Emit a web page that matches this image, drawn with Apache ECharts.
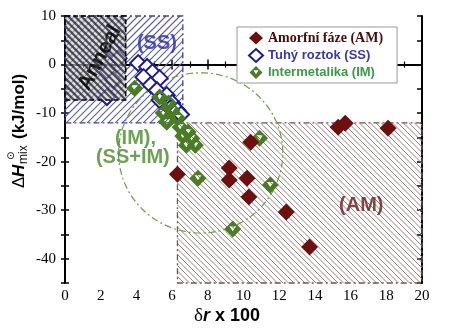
<!DOCTYPE html>
<html><head><meta charset="utf-8">
<script src="https://cdn.jsdelivr.net/npm/echarts@6/dist/echarts.min.js"></script>
<style>html,body{margin:0;padding:0;background:#fff}#c{width:452px;height:336px}</style>
</head><body><div id="c"></div>
<script>
// ---- data ----
const xTickLabels = [0, 2, 4, 6, 8, 10, 12, 14, 16, 18, 20];
const yTickLabels = [10, 0, -10, -20, -30, -40];
const seriesNames = ['Amorfní fáze (AM)', 'Tuhý roztok (SS)', 'Intermetalika (IM)'];
const amData = [[6.3,-22.6],[9.2,-21.3],[9.2,-23.8],[10.2,-23.4],[10.3,-27.3],[10.4,-16.0],[12.4,-30.4],[13.7,-37.6],[15.3,-12.9],[15.7,-12.1],[18.1,-13.1]];
const ssData = [[2.7,3.0],[3.0,1.3],[2.4,-1.5],[2.7,-3.2],[2.35,-6.7],[4.1,0.3],[4.6,-0.5],[4.9,-1.6],[4.4,-2.6],[5.3,-2.8],[4.8,-4.2],[5.15,-5.3],[5.7,-6.3],[5.3,-7.3],[6.0,-7.9],[5.9,-9.0],[6.3,-9.4],[6.5,-10.3]];
const imData = [[3.9,-4.9],[5.3,-6.7],[5.8,-7.9],[5.5,-10.0],[6.0,-9.4],[5.7,-11.9],[6.3,-11.0],[6.45,-12.9],[6.9,-13.9],[6.6,-14.7],[7.1,-15.2],[6.8,-16.6],[7.3,-16.6],[7.45,-23.4],[10.9,-15.2],[11.5,-24.8],[9.4,-33.9]];
// regions [xMin, yMin, xMax, yMax]
const ssRegion = [0, -12, 6.6, 10];
const amRegion = [6.3, -45, 20, -12];
const annealRegion = [0, -7.3, 3.4, 10];
// IM ellipse [cx, cy, rx, ry]
const imEllipse = [7.6, -18.2, 4.6, 16.5];
// annotation texts with their data positions
const annotations = [
  {text:'(SS)', pos:[5.15, 4.4]},
  {text:'(IM),', pos:[3.95, -15.2]},
  {text:'(SS+IM)', pos:[3.8, -19.1]},
  {text:'(AM)', pos:[16.6, -29.0]},
  {text:'Anneal', pos:[1.95, 1.4]}
];

// ---- styles ----
const annStyles = [
  {color:'#2a2a9c', size:20, rot:0},
  {color:'#4a8a2a', size:20, rot:0},
  {color:'#4a8a2a', size:20, rot:0},
  {color:'#6a1a1a', size:20, rot:0},
  {color:'#000', size:21, rot:62}
];
const hatchStyles = {
  ss: {dir:'fwd', spacing:7, line:'#5e5e9e', lw:1.1, border:'#4040a0', bw:1.3, dash:[6,3,2,3]},
  am: {dir:'back', spacing:5.5, line:'#9a8484', lw:1.0, border:'#7a5050', bw:1.3, dash:[6,3,2,3]},
  an: {dir:'back', spacing:6.5, line:'rgba(30,30,30,0.75)', lw:2.2, fill:'rgba(195,195,205,0.55)', border:'#000', bw:1.6, dash:[5,3]}
};
const imSymbol = 'path://M10 0 L20 10 L10 20 L0 10 Z M6 6.5 L10 12.5 L14 6.5 Z';

function hatchRenderer(st) {
  return function (params, api) {
    const p0 = api.coord([api.value(0), api.value(3)]);
    const p1 = api.coord([api.value(2), api.value(1)]);
    const x0 = p0[0], y0 = p0[1], x1 = p1[0], y1 = p1[1];
    const ch = [];
    if (st.fill) ch.push({type:'rect', shape:{x:x0, y:y0, width:x1-x0, height:y1-y0}, style:{fill:st.fill}});
    const sp = st.spacing;
    if (st.dir === 'back') {
      for (let c = Math.floor((y0 - x1) / sp) * sp; c <= y1 - x0; c += sp) {
        const xa = Math.max(x0, y0 - c), xb = Math.min(x1, y1 - c);
        if (xb > xa) ch.push({type:'line', shape:{x1:xa, y1:xa + c, x2:xb, y2:xb + c}, style:{stroke:st.line, lineWidth:st.lw}});
      }
    } else {
      for (let c = Math.floor((x0 + y0) / sp) * sp; c <= x1 + y1; c += sp) {
        const xa = Math.max(x0, c - y1), xb = Math.min(x1, c - y0);
        if (xb > xa) ch.push({type:'line', shape:{x1:xa, y1:c - xa, x2:xb, y2:c - xb}, style:{stroke:st.line, lineWidth:st.lw}});
      }
    }
    ch.push({type:'rect', shape:{x:x0, y:y0, width:x1-x0, height:y1-y0}, style:{fill:'none', stroke:st.border, lineWidth:st.bw, lineDash:st.dash}});
    return {type:'group', children:ch};
  };
}

function ellipseRenderer(params, api) {
  const cx = api.value(0), cy = api.value(1), rx = api.value(2), ry = api.value(3);
  const pts = [];
  for (let i = 0; i <= 96; i++) {
    const t = i / 96 * Math.PI * 2;
    pts.push(api.coord([cx + rx * Math.cos(t), cy + ry * Math.sin(t)]));
  }
  return {type:'polyline', shape:{points:pts}, style:{fill:'none', stroke:'#6f9a4f', lineWidth:1.2, lineDash:[7,3,2,3]}};
}

const chart = echarts.init(document.getElementById('c'), null, {renderer:'canvas'});
const axisLineStyle = {color:'#000', width:2};
const option = {
  animation:false,
  backgroundColor:'#fff',
  grid:{left:65, right:30, top:16, bottom:53},
  legend:{
    orient:'vertical', left:237, top:27, padding:[4,14,4,11], itemGap:3, itemWidth:14, itemHeight:13,
    borderColor:'#999', borderWidth:1, backgroundColor:'#fff', z:10,
    data:[
      {name:seriesNames[0], textStyle:{fontFamily:'Liberation Serif', fontWeight:'bold', fontSize:14, color:'#4a0a0a'}},
      {name:seriesNames[1], textStyle:{fontFamily:'Liberation Sans', fontWeight:'bold', fontSize:13, color:'#3a3aa0'}},
      {name:seriesNames[2], textStyle:{fontFamily:'Liberation Sans', fontWeight:'bold', fontSize:13, color:'#3a9a4a'}}
    ]
  },
  xAxis:[
    {type:'value', min:xTickLabels[0], max:xTickLabels[xTickLabels.length-1], interval:2, position:'bottom',
     axisLine:{lineStyle:axisLineStyle}, axisTick:{inside:true, length:5, lineStyle:{color:'#000', width:1.5}},
     minorTick:{show:true, splitNumber:2, length:3, lineStyle:{color:'#000', width:1.2}},
     axisLabel:{fontFamily:'Liberation Serif', fontSize:15, color:'#000', margin:6,
       formatter:v => xTickLabels.includes(v) ? String(v) : ''},
     splitLine:{show:false}},
    {type:'value', min:0, max:20, interval:2, position:'top',
     axisLine:{lineStyle:axisLineStyle}, axisTick:{inside:true, length:5, lineStyle:{color:'#000', width:1.5}},
     minorTick:{show:true, splitNumber:2, length:3, lineStyle:{color:'#000', width:1.2}},
     axisLabel:{show:false}, splitLine:{show:false}}
  ],
  yAxis:[
    {type:'value', min:-45, max:10, interval:5, position:'left',
     axisLine:{lineStyle:axisLineStyle}, axisTick:{inside:false, length:4, lineStyle:{color:'#000', width:1.5}},
     axisLabel:{fontFamily:'Liberation Serif', fontSize:15, color:'#000', margin:9,
       formatter:v => yTickLabels.includes(v) ? String(v) : ''},
     splitLine:{show:false}},
    {type:'value', min:-45, max:10, interval:5, position:'left',
     axisLine:{show:false}, axisTick:{inside:true, length:4, lineStyle:{color:'#000', width:1.5}},
     axisLabel:{show:false}, splitLine:{show:false}},
    {type:'value', min:-45, max:10, interval:5, position:'right',
     axisLine:{lineStyle:axisLineStyle}, axisTick:{inside:true, length:5, lineStyle:{color:'#000', width:1.5}},
     axisLabel:{show:false}, splitLine:{show:false}}
  ],
  series:[
    {type:'custom', name:'ssRegion', z:1, silent:true, renderItem:hatchRenderer(hatchStyles.ss), encode:{x:[0,2], y:[1,3]}, data:[ssRegion]},
    {type:'custom', name:'amRegion', z:1, silent:true, renderItem:hatchRenderer(hatchStyles.am), encode:{x:[0,2], y:[1,3]}, data:[amRegion]},
    {type:'custom', name:'imEllipse', z:2, silent:true, renderItem:ellipseRenderer, encode:{x:0, y:1}, data:[imEllipse]},
    {type:'scatter', name:seriesNames[1], z:3, symbol:'diamond', symbolSize:16,
     itemStyle:{color:'#fff', borderColor:'#1c1c8c', borderWidth:2, opacity:1}, data:ssData},
    {type:'scatter', name:seriesNames[2], z:4, symbol:imSymbol, symbolSize:17,
     itemStyle:{color:'#4a7d23', opacity:1}, data:imData},
    {type:'scatter', name:seriesNames[0], z:4, symbol:'diamond', symbolSize:17,
     itemStyle:{color:'#6b0f0f', opacity:1}, data:amData},
    {type:'custom', name:'annealRegion', z:5, silent:true, renderItem:hatchRenderer(hatchStyles.an), encode:{x:[0,2], y:[1,3]}, data:[annealRegion]},
    {type:'scatter', name:'annotations', z:6, silent:true, symbolSize:0,
     data:annotations.map((a, i) => ({value:a.pos, label:{show:true, position:'inside', formatter:a.text,
       rotate:annStyles[i].rot, color:annStyles[i].color, fontSize:annStyles[i].size, fontWeight:'bold',
       fontFamily:'Liberation Sans'}}))}
  ],
  graphic:[
    {type:'group', x:19, y:126, rotation:Math.PI/2, children:[
      {type:'text', x:-62, y:0, style:{text:'Δ', font:'17px "Liberation Sans"', fill:'#000', verticalAlign:'middle'}},
      {type:'text', x:-51, y:0, style:{text:'H', font:'italic bold 17px "Liberation Sans"', fill:'#000', verticalAlign:'middle'}},
      {type:'text', x:-38, y:5, style:{text:'mix', font:'12px "Liberation Sans"', fill:'#000', verticalAlign:'middle'}},
      {type:'text', x:-34, y:-8, style:{text:'⊙', font:'10px "DejaVu Sans"', fill:'#000', verticalAlign:'middle'}},
      {type:'text', x:-13, y:0, style:{text:'(kJ/mol)', font:'bold 17px "Liberation Sans"', fill:'#000', verticalAlign:'middle'}}
    ]},
    {type:'text', x:227, y:316, style:{
      text:'{d|δ}{r|r}{t| x 100}', align:'center', verticalAlign:'middle',
      rich:{
        d:{fontFamily:'Liberation Serif', fontSize:19, color:'#000'},
        r:{fontFamily:'Liberation Sans', fontStyle:'italic', fontWeight:'bold', fontSize:18, color:'#000'},
        t:{fontFamily:'Liberation Sans', fontWeight:'bold', fontSize:18, color:'#000'}
      }}}
  ]
};
chart.setOption(option);
</script>
</body></html>
